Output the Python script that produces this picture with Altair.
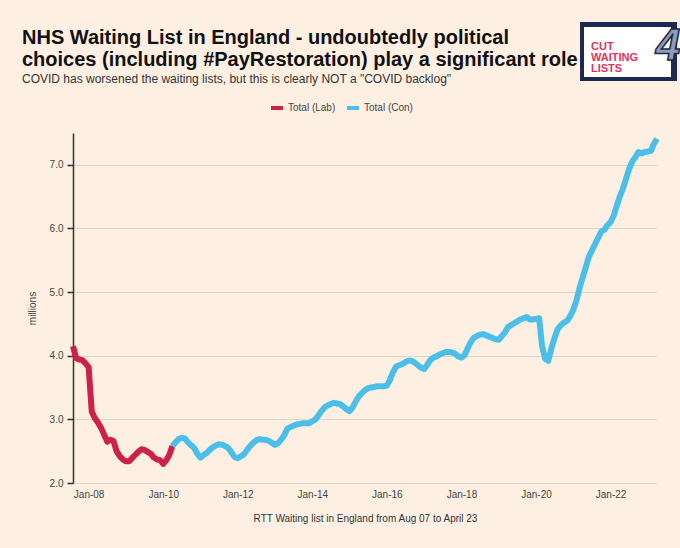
import altair as alt
import pandas as pd

# ---- data (millions, monthly Aug 2007 .. Apr 2023) ----
start_year, start_month = 2007, 8
lab_values = [4.15, 3.96, 3.94, 3.93, 3.88, 3.82, 3.12, 3.02, 2.95, 2.87, 2.76, 2.65,
              2.68, 2.66, 2.50, 2.42, 2.37, 2.34, 2.34, 2.39, 2.44, 2.49, 2.53, 2.52,
              2.49, 2.46, 2.40, 2.37, 2.36, 2.30, 2.36, 2.44, 2.58]
con_start_index = 32
con_values = [2.58, 2.64, 2.69, 2.71, 2.70, 2.64, 2.59, 2.55, 2.46, 2.40, 2.44, 2.47,
              2.52, 2.56, 2.59, 2.61, 2.60, 2.58, 2.55, 2.48, 2.41, 2.39, 2.42, 2.45,
              2.52, 2.58, 2.63, 2.67, 2.69, 2.68, 2.68, 2.66, 2.63, 2.60, 2.63, 2.68,
              2.75, 2.85, 2.88, 2.90, 2.92, 2.93, 2.94, 2.94, 2.94, 2.97, 3.00, 3.06,
              3.13, 3.19, 3.22, 3.24, 3.26, 3.25, 3.24, 3.20, 3.16, 3.13, 3.19, 3.28,
              3.36, 3.41, 3.46, 3.49, 3.50, 3.51, 3.52, 3.52, 3.52, 3.53, 3.62, 3.74,
              3.83, 3.85, 3.87, 3.90, 3.92, 3.92, 3.89, 3.85, 3.81, 3.79, 3.86, 3.93,
              3.97, 3.99, 4.02, 4.04, 4.06, 4.06, 4.05, 4.03, 3.99, 3.97, 4.01, 4.11,
              4.21, 4.28, 4.31, 4.33, 4.34, 4.32, 4.30, 4.28, 4.26, 4.25, 4.31, 4.36,
              4.45, 4.48, 4.51, 4.54, 4.57, 4.59, 4.61, 4.57, 4.57, 4.58, 4.59, 4.15,
              3.95, 3.92, 4.12, 4.28, 4.42, 4.48, 4.52, 4.55, 4.62, 4.72, 4.87, 5.05,
              5.22, 5.38, 5.55, 5.65, 5.75, 5.85, 5.95, 5.98, 6.05, 6.10, 6.20, 6.35,
              6.50, 6.62, 6.78, 6.93, 7.05, 7.12, 7.20, 7.18, 7.20, 7.21, 7.22, 7.33,
              7.41]
series_names = ["Total (Lab)", "Total (Con)"]
series_colors = ["#cc2249", "#4bbfea"]
y_ticks = [2, 3, 4, 5, 6, 7]
x_tick_years = [2008, 2010, 2012, 2014, 2016, 2018, 2020, 2022]
title_lines = ["NHS Waiting List in England - undoubtedly political",
               "choices (including #PayRestoration) play a significant role"]
subtitle_text = 'COVID has worsened the waiting lists, but this is clearly NOT a "COVID backlog"'
x_title = "RTT Waiting list in England from Aug 07 to April 23"
y_title = "millions"
logo_lines = ["CUT", "WAITING", "LISTS"]
logo_number = "4"


def month_date(i):
    m0 = start_month - 1 + i
    y = start_year + m0 // 12
    m = m0 % 12 + 1
    return f"{y:04d}-{m:02d}-01T00:00:00"


rows = []
for i, v in enumerate(lab_values):
    rows.append({"date": month_date(i), "value": v, "series": series_names[0]})
for j, v in enumerate(con_values):
    rows.append({"date": month_date(con_start_index + j), "value": v, "series": series_names[1]})
df = pd.DataFrame(rows)

FONT = "Liberation Sans"
BG = "#fdf0e3"

x_domain = [alt.DateTime(year=2007, month=8, date=1),
            alt.DateTime(year=2023, month=4, date=1)]
x_values = [alt.DateTime(year=y, month=1, date=1) for y in x_tick_years]

lines = alt.Chart(df).mark_line(strokeWidth=6, strokeJoin="round").encode(
    x=alt.X("date:T",
            scale=alt.Scale(domain=x_domain),
            axis=alt.Axis(values=x_values, format="%b-%y", labelAngle=0, ticks=False,
                          domain=False, grid=False, labelFontSize=10, labelColor="#444",
                          labelPadding=6, labelFont=FONT, title=x_title, titleFont=FONT,
                          titleFontSize=10, titleFontWeight="normal", titleColor="#333",
                          titlePadding=14)),
    y=alt.Y("value:Q",
            scale=alt.Scale(domain=[2, 7.5], nice=False, zero=False),
            axis=alt.Axis(values=y_ticks, format=".1f", tickSize=6, tickColor="#333",
                          tickWidth=1.5, domainColor="#333", domainWidth=1.5, grid=True,
                          gridColor="#e2d3c6", gridWidth=1.2, labelFontSize=10,
                          labelColor="#444", labelFont=FONT, labelPadding=4,
                          title=y_title, titleFont=FONT, titleFontSize=10,
                          titleFontWeight="normal", titleColor="#444", titlePadding=12)),
    color=alt.Color("series:N",
                    scale=alt.Scale(domain=series_names, range=series_colors),
                    sort=series_names,
                    legend=alt.Legend(orient="none", legendX=196, legendY=-33,
                                      direction="horizontal", title=None,
                                      symbolType="stroke", symbolSize=144,
                                      symbolStrokeWidth=4, labelFont=FONT,
                                      labelFontSize=10, labelColor="#444",
                                      labelOffset=3, columnPadding=3, padding=0)),
    detail="series:N",
)

logo_df = pd.DataFrame({"k": [0]})
logo_box = alt.Chart(logo_df).mark_rect(color="#1b2a4e").encode(
    x=alt.value(507), x2=alt.value(604), y=alt.value(-111), y2=alt.value(-52))
logo_inner = alt.Chart(logo_df).mark_rect(color="#ffffff").encode(
    x=alt.value(511), x2=alt.value(598), y=alt.value(-106), y2=alt.value(-56))
logo_text = alt.Chart(logo_df).mark_text(
    font=FONT, fontSize=11, fontWeight="bold", color="#e0355a", align="left",
    baseline="top", lineHeight=11).encode(
    x=alt.value(518), y=alt.value(-92), text=alt.value(logo_lines))
logo_num = alt.Chart(logo_df).mark_text(
    font=FONT, fontSize=44, fontWeight="bold", fontStyle="italic", color="#8e9db5",
    stroke="#1b2a4e", strokeWidth=1.5, align="center", baseline="alphabetic").encode(
    x=alt.value(595), y=alt.value(-73), text=alt.value(logo_number))

chart = alt.layer(lines, logo_box, logo_inner, logo_text, logo_num).properties(
    width=584, height=350,
    autosize=alt.AutoSizeParams(type="none"),
    padding={"left": 73, "top": 133, "right": 23, "bottom": 65},
    background=BG,
    title=alt.TitleParams(text=title_lines, subtitle=subtitle_text, anchor="start",
                          frame="group", dx=-51, offset=-63, font=FONT, fontSize=20,
                          fontWeight="bold", color="#111", lineHeight=22,
                          subtitleFont=FONT, subtitleFontSize=12, subtitleColor="#333",
                          subtitlePadding=4),
).configure_view(stroke=None)

chart.save("out.html", embed_options={"renderer": "svg", "actions": False})
